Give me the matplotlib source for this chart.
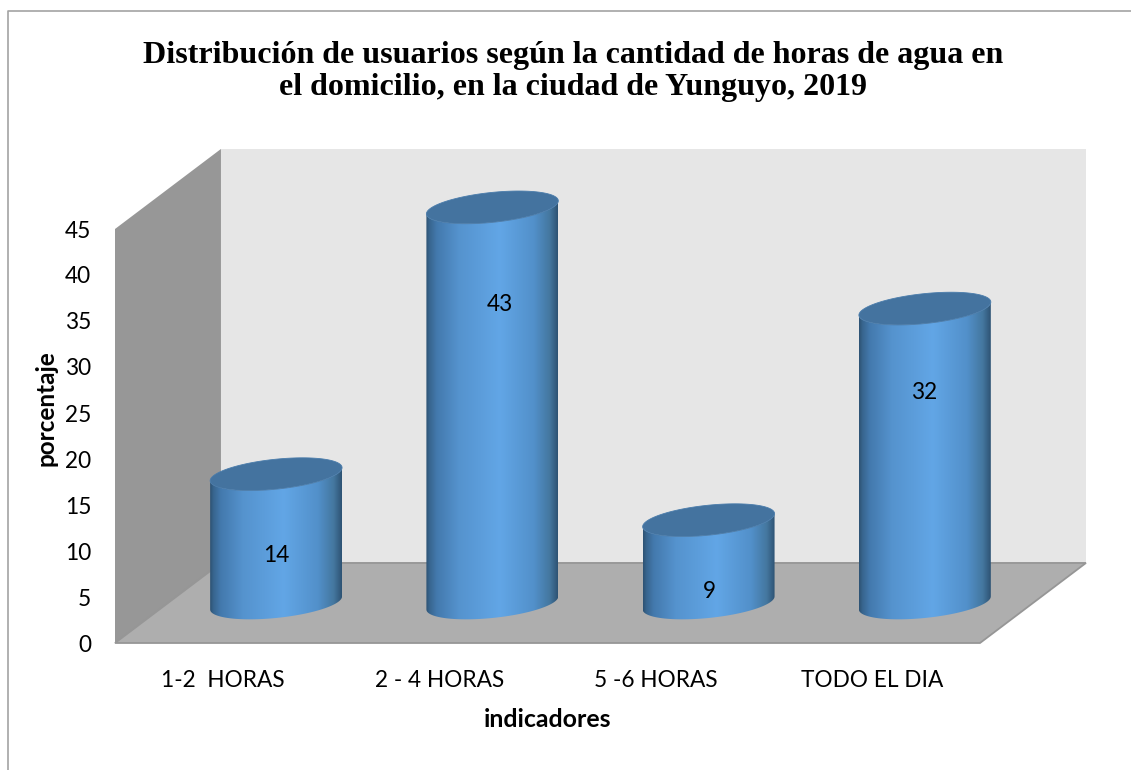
import numpy as np
import matplotlib
matplotlib.use('Agg')
import matplotlib.pyplot as plt
from matplotlib.colors import LinearSegmentedColormap
from matplotlib.lines import Line2D
from matplotlib.patches import Polygon

categories = ['1-2  HORAS', '2 - 4 HORAS', '5 -6 HORAS', 'TODO EL DIA']
values = [14, 43, 9, 32]
yticks = [0, 5, 10, 15, 20, 25, 30, 35, 40, 45]
title = 'Distribución de usuarios según la cantidad de horas de agua en\nel domicilio, en la ciudad de Yunguyo, 2019'
xlabel = 'indicadores'
ylabel = 'porcentaje'
# where excel left the data labels (axis units)
label_x = [0.745, 1.78, 2.75, 3.74]
label_y = [9.5, 36.8, 5.6, 27.2]

W, H = 1131, 770
fig = plt.figure(figsize=(W / 100, H / 100), dpi=100, facecolor='white')
ax = fig.add_axes([115 / W, (H - 643) / H, 865 / W, 414 / H])
ax.patch.set_visible(False)
for s in ax.spines.values():
    s.set_visible(False)

# box depth in data units
dx, dy = 0.49, 8.7
top = yticks[-1]
nx = len(categories)

ax.add_patch(Polygon([(dx, dy), (nx + dx, dy), (nx + dx, top + dy), (dx, top + dy)],
                     fc='#E6E6E6', ec='none', clip_on=False, zorder=1))
ax.add_patch(Polygon([(0, 0), (dx, dy), (dx, top + dy), (0, top)],
                     fc='#979797', ec='none', clip_on=False, zorder=2))
ax.add_patch(Polygon([(0, 0), (nx, 0), (nx + dx, dy), (dx, dy)],
                     fc='#AEAEAE', ec='#969696', lw=1.3, clip_on=False, zorder=3))

cmap = LinearSegmentedColormap.from_list('cyl', [
    (0.0, '#2E5374'), (0.025, '#38658E'), (0.08, '#4379AD'), (0.25, '#5593CE'),
    (0.56, '#62A6E6'), (0.82, '#5290CA'), (0.94, '#44779F'), (1.0, '#2E5374')])

half = 0.305
tilt = 0.71
minor = 1.63
t = np.linspace(0, 2 * np.pi, 121)
grad = np.linspace(0, 1, 256).reshape(1, -1)

for i, v in enumerate(values):
    cx = i + 0.5 + dx / 2
    y0 = dy / 2
    y1 = v + dy / 2
    # front of the cylinder: lower half of bottom ellipse, back along the top
    tf = np.linspace(np.pi, 2 * np.pi, 61)
    xb = cx + half * np.cos(tf)
    yb = y0 + tilt * np.cos(tf) + minor * np.sin(tf)
    xt = xb[::-1]
    yt = y1 + tilt * np.cos(tf[::-1]) + minor * np.sin(tf[::-1])
    body = Polygon(np.column_stack([np.r_[xb, xt], np.r_[yb, yt]]), fc='none', ec='none',
                   clip_on=False, zorder=4)
    ax.add_patch(body)
    im = ax.imshow(grad, extent=(cx - half, cx + half, y0 - 4, y1 + 4), cmap=cmap, vmin=0, vmax=1,
                   aspect='auto', interpolation='bilinear', zorder=4)
    im.set_clip_path(body)
    im.set_clip_box(fig.bbox)  # otherwise the image stops at the axes box
    lid = np.column_stack([cx + half * np.cos(t), y1 + tilt * np.cos(t) + minor * np.sin(t)])
    ax.add_patch(Polygon(lid, fc='#44739F', ec='#4A7CAB', lw=0.6, clip_on=False, zorder=5))
    ax.text(label_x[i], label_y[i], str(v), ha='center', va='center', fontsize=16.3,
            family='Lato', color='black', zorder=6)

ax.set_xlim(0, nx)
ax.set_ylim(0, top)
ax.set_xticks([i + 0.5 for i in range(nx)])
ax.set_xticklabels(categories, family='Lato', fontsize=16.3)
ax.set_yticks(yticks)
ax.set_yticklabels([str(y) for y in yticks], family='Lato', fontsize=16.3)
ax.tick_params(axis='x', length=0, pad=19.5)
ax.tick_params(axis='y', length=0, pad=17)
ax.set_xlabel(xlabel, family='Lato', fontweight='bold', fontsize=17.9)
ax.xaxis.set_label_coords(0.5, -0.158, transform=ax.transAxes)
ax.set_ylabel(ylabel, family='Lato', fontweight='bold', fontsize=17.5)
ax.yaxis.set_label_coords(-0.0665, 0.567, transform=ax.transAxes)

fig.text(573 / W, 1 - 71.5 / H, title, ha='center', va='center', family='Liberation Serif',
         fontweight='bold', fontsize=23, linespacing=1.13, color='black')

# outer frame of the chart, only top and left show
fig.add_artist(Line2D([8 / W, 8 / W, 1], [0, 1 - 11 / H, 1 - 11 / H], color='#A3A3A3', lw=1.2))

fig.savefig('out.png', dpi=100)
